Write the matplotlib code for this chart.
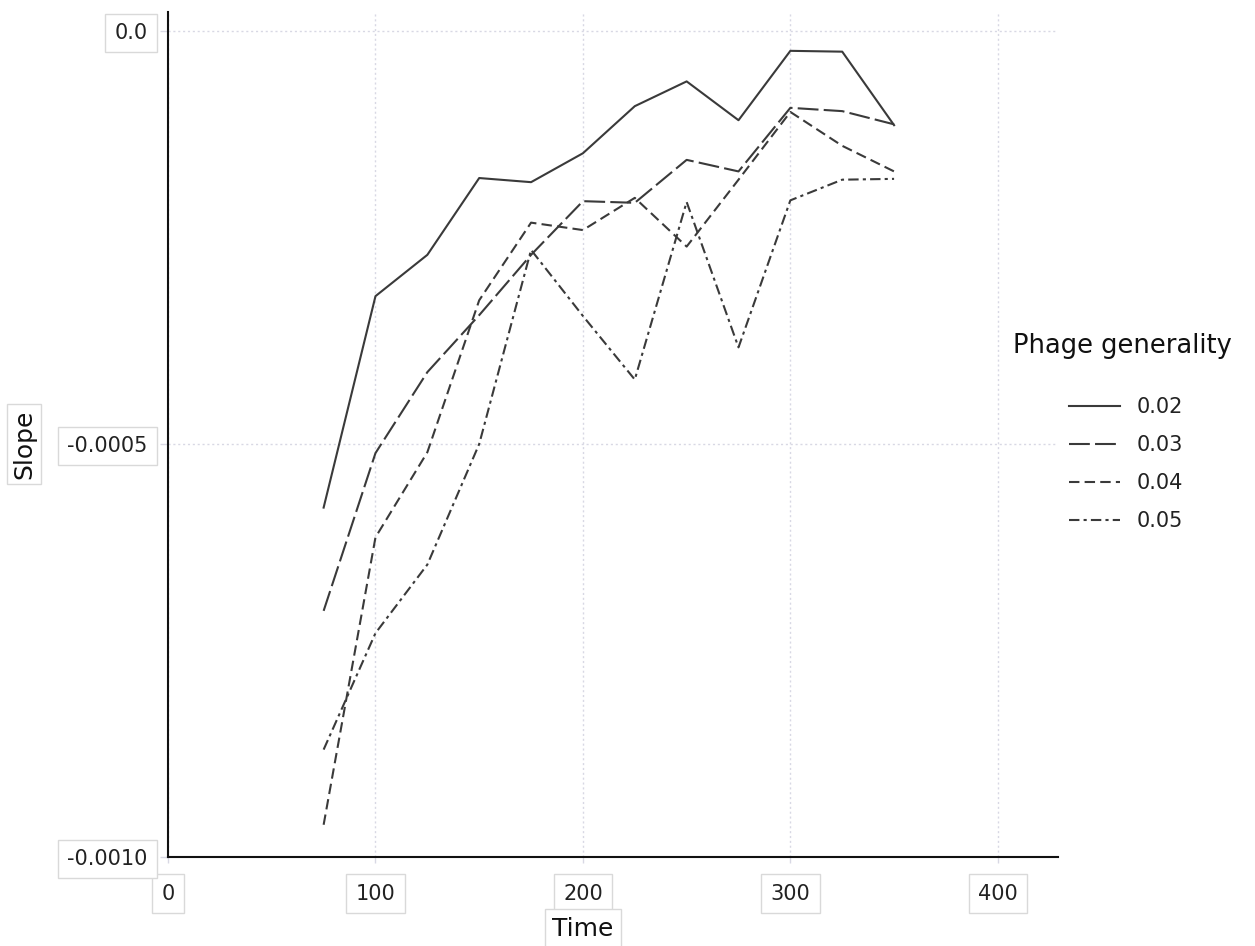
import matplotlib
matplotlib.use("Agg")
import matplotlib.pyplot as plt
import matplotlib.transforms as mtransforms

# data
time = [75, 100, 125, 150, 175, 200, 225, 250, 275, 300, 325, 350]
slope_002 = [-0.000577, -0.000321, -0.000271, -0.000178, -0.000183, -0.000148,
             -0.000091, -0.000061, -0.000108, -0.000024, -0.000025, -0.000114]
slope_003 = [-0.000702, -0.000511, -0.000413, -0.000344, -0.000271, -0.000206,
             -0.000208, -0.000156, -0.000170, -0.000093, -0.000097, -0.000113]
slope_004 = [-0.000961, -0.000613, -0.000510, -0.000326, -0.000232, -0.000241,
             -0.000202, -0.000261, -0.000180, -0.000098, -0.000139, -0.000170]
slope_005 = [-0.000870, -0.000729, -0.000646, -0.000500, -0.000265, -0.000345,
             -0.000422, -0.000207, -0.000383, -0.000205, -0.000180, -0.000179]
groups = ["0.02", "0.03", "0.04", "0.05"]
styles = ["-", (0, (10, 2.5)), (0, (5, 2.5)), (0, (5, 2, 1.5, 2))]

yticks = [0.0, -0.0005, -0.0010]
yticklabels = ["0.0", "-0.0005", "-0.0010"]
xticks = [0, 100, 200, 300, 400]

plt.rcParams['font.family'] = ['DejaVu Sans']

fig = plt.figure(figsize=(12.55, 9.46), dpi=100)
ax = fig.add_axes([0.1339, 0.0941, 0.843 - 0.1339, 0.9873 - 0.0941])

lc = "#3a3a3a"
for vals, g, ls in zip([slope_002, slope_003, slope_004, slope_005], groups, styles):
    ax.plot(time, vals, color=lc, lw=1.5, linestyle=ls, label=g)

ax.set_xlim(0, 429)
ax.set_ylim(-0.0010, 0.000023)
ax.set_xticks(xticks)
ax.set_xticklabels([str(x) for x in xticks])
ax.set_yticks(yticks)
ax.set_yticklabels(yticklabels)

gridc = "#d8d8e4"
ax.grid(True, color=gridc, linestyle=(0, (1.5, 2)), lw=1.0)
ax.set_axisbelow(True)
for s in ["top", "right"]:
    ax.spines[s].set_visible(False)
for s in ["left", "bottom"]:
    ax.spines[s].set_color("#111111")
    ax.spines[s].set_linewidth(1.5)

box = dict(boxstyle="square,pad=0.45", fc="white", ec="#d9d9d9", lw=1)
ax.tick_params(axis="x", length=4.3, width=1, color=gridc, pad=15, labelsize=15, labelcolor="#222222")
ax.tick_params(axis="y", length=5.8, width=1, color=gridc, pad=9, labelsize=15, labelcolor="#222222")
ax.xaxis.get_major_ticks()[0].tick1line.set_color("#111111")
ax.yaxis.get_major_ticks()[2].tick1line.set_color("#111111")
for lab in ax.get_xticklabels() + ax.get_yticklabels():
    lab.set_bbox(box)

ax.set_xlabel("Time", fontsize=18, color="#111111",
              bbox=dict(boxstyle="square,pad=0.3", fc="white", ec="#d9d9d9", lw=1))
ax.xaxis.set_label_coords(200, -0.071,
                          transform=mtransforms.blended_transform_factory(ax.transData, ax.transAxes))
ax.set_ylabel("Slope", fontsize=18, color="#111111",
              bbox=dict(boxstyle="square,pad=0.2", fc="white", ec="#d9d9d9", lw=1))
ax.yaxis.set_label_coords(-0.148, -0.0005,
                          transform=mtransforms.blended_transform_factory(ax.transAxes, ax.transData))

fig.text(1013 / 1255, 1 - 346 / 946, "Phage generality", fontsize=18.5,
         color="#111111", va="center", ha="left")
leg = ax.legend(loc="upper left", bbox_to_anchor=(1069 / 1255, 1 - 397 / 946),
                bbox_transform=fig.transFigure, frameon=False, fontsize=15,
                handlelength=2.45, handletextpad=0.8, labelspacing=0.87,
                borderpad=0, borderaxespad=0)
for t in leg.get_texts():
    t.set_color("#222222")

fig.savefig("out.png", dpi=100)
